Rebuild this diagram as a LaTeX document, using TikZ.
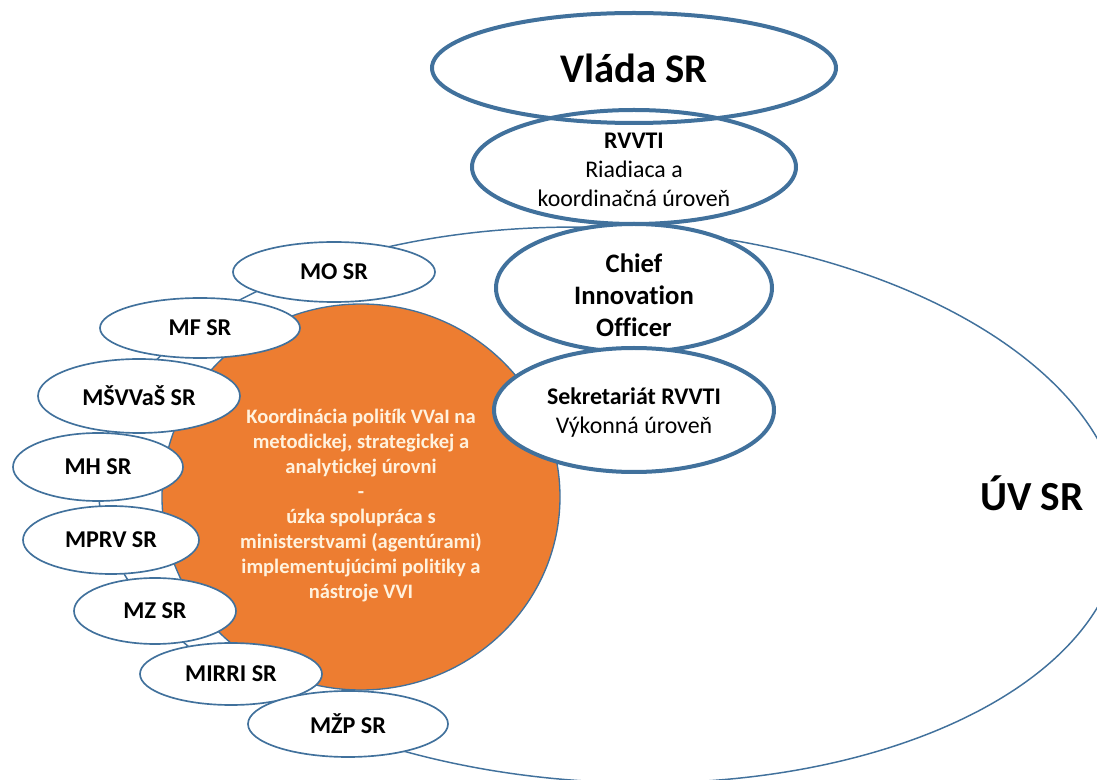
\documentclass[tikz,border=0pt]{standalone}
\usepackage{fontspec}
\setmainfont{Carlito}[Ligatures=NoCommon]
\usetikzlibrary{shapes.geometric}

\definecolor{frame}{RGB}{65,113,156}
\definecolor{policy}{RGB}{237,125,49}
\definecolor{cream}{RGB}{255,242,222}

\tikzset{
  office/.style={ellipse, draw=frame, line width=1.25pt, fill=white, inner sep=0pt,
    font=\fontsize{18.1}{21}\selectfont\bfseries},
  council/.style={ellipse, draw=frame, line width=3pt, inner sep=-4pt, align=center,
    font=\fontsize{17.9}{21.75}\selectfont},
}

\begin{document}
\begin{tikzpicture}[x=0.75pt,y=-0.75pt]
\clip (0,0) rectangle (1097,780);

% Nodes
  \node[ellipse, draw=frame, line width=1.1pt, fill=white, rotate=-3,
        minimum width=768pt, minimum height=415.5pt] (UV) at (610,505) {};
  \node[font=\fontsize{31}{36}\selectfont\bfseries] (UVlabel) at (1032,493) {ÚV SR};

  \node[ellipse, draw=frame, line width=1pt, fill=policy, text=cream, align=center,
        inner sep=0pt, minimum width=298.5pt, minimum height=289.5pt,
        font=\fontsize{15.4}{18.75}\selectfont\bfseries] (Koord) at (361,497)
        {\rule{0pt}{23.5pt}Koordinácia politík VVaI na\\ metodickej, strategickej a\\ analytickej úrovni\\ -\\
         úzka spolupráca s\\ ministerstvami (agentúrami)\\ implementujúcimi politiky a\\ nástroje VVI};

  \node[office, minimum width=151.5pt, minimum height=45pt]   (MO)     at (334,272) {MO SR};
  \node[office, minimum width=150pt,   minimum height=45pt]   (MF)     at (200,328) {MF SR};
  \node[office, minimum width=151.5pt, minimum height=55.5pt] (MSVVaS) at (139,396) {MŠVVaŠ SR};
  \node[office, minimum width=127.5pt, minimum height=51pt]   (MH)     at (98,467)  {MH SR};
  \node[office, minimum width=132pt,   minimum height=51pt]   (MPRV)   at (111,540) {MPRV SR};
  \node[office, minimum width=121.5pt, minimum height=49.5pt] (MZ)     at (155,611) {MZ SR};
  \node[office, minimum width=136.5pt, minimum height=46.5pt] (MIRRI)  at (231,674) {MIRRI SR};
  \node[office, minimum width=150pt,   minimum height=49.5pt] (MZP)    at (348,724) {MŽP SR};

  \node[council, minimum width=243pt, minimum height=85.5pt] (RVVTI) at (634,167)
        {\rule{0pt}{16.5pt}\textbf{RVVTI}\\ Riadiaca a\\ koordinačná úroveň};
  \node[council, minimum width=303pt, minimum height=82.5pt,
        font=\fontsize{30.5}{36}\selectfont\bfseries] (Vlada) at (634,68) {Vláda SR};
  \node[council, fill=white, minimum width=207pt, minimum height=96pt,
        font=\fontsize{20}{24}\selectfont\bfseries] (CIO) at (634,288)
        {\rule{0pt}{24.5pt}Chief\\ Innovation\\ Officer};
  \node[council, fill=white, minimum width=210pt, minimum height=93pt] (Sekr) at (634,410)
        {\rule{0pt}{17pt}\textbf{Sekretariát RVVTI}\\ Výkonná úroveň};

\end{tikzpicture}
\end{document}
